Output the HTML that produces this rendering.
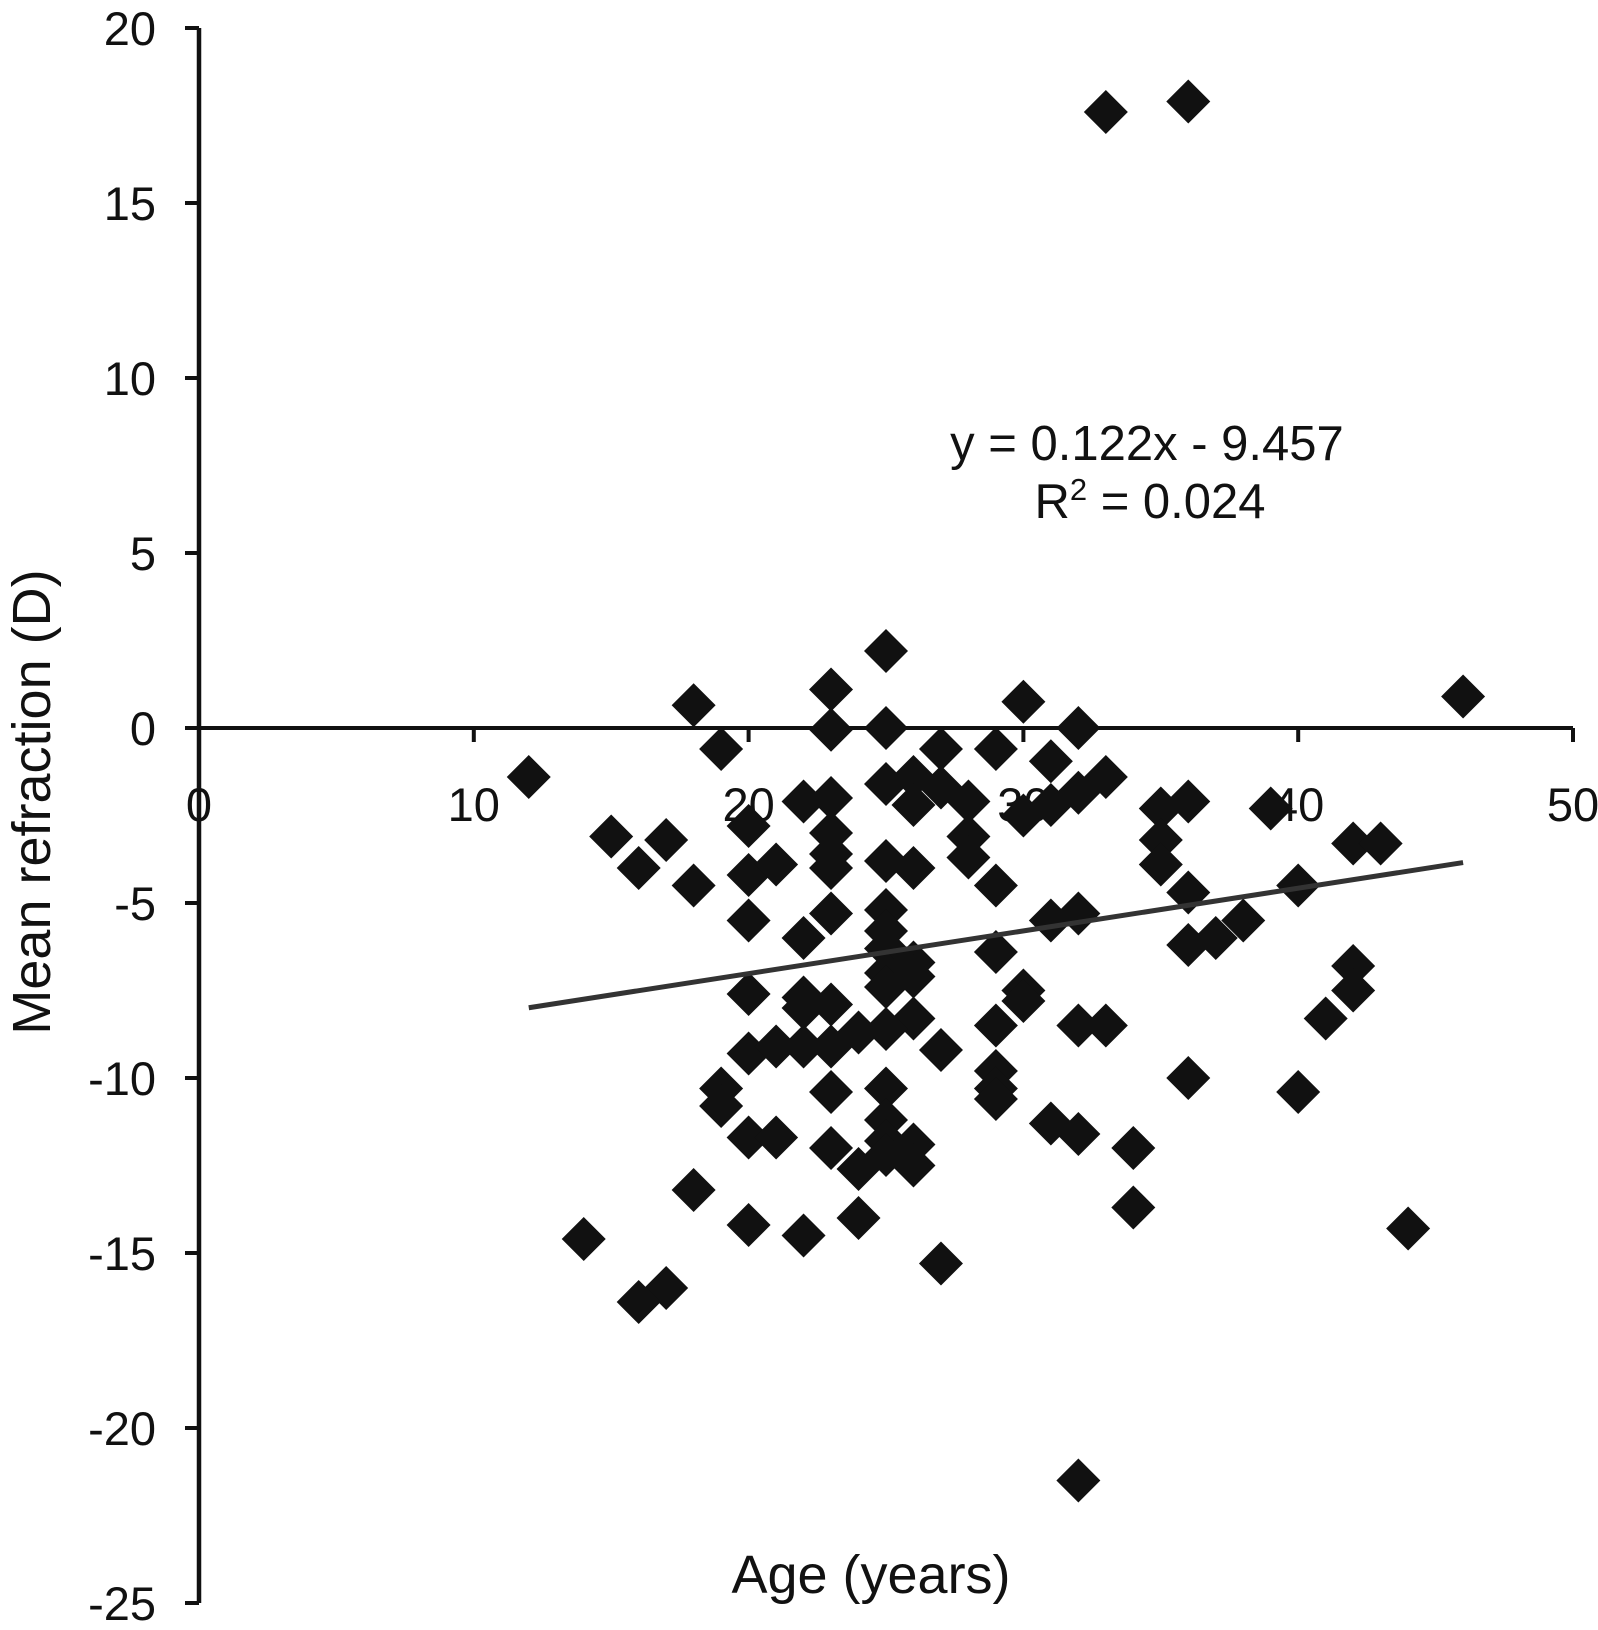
<!DOCTYPE html>
<html><head><meta charset="utf-8"><style>
html,body{margin:0;padding:0;background:#fff;}
svg{display:block;font-family:"Liberation Sans",Arial,sans-serif;}
</style></head><body>
<svg id="chart" width="1598" height="1630" viewBox="0 0 1598 1630" xmlns="http://www.w3.org/2000/svg"></svg>
<script>
const ages = [33,36,25,46,18,23,30,23,25,32,12,19,27,29,31,33,25,26,26,27,28,22,23,30,31,32,35,36,39,15,17,20,23,23,23,28,28,35,35,42,43,16,20,21,25,26,18,29,40,36,23,25,25,20,31,32,38,22,37,36,25,25,25,29,26,26,42,42,20,30,30,22,22,23,32,33,41,29,26,25,24,27,20,21,22,23,29,29,29,19,19,23,25,36,40,25,25,25,31,32,20,21,26,26,34,23,24,18,34,24,20,44,14,22,27,17,16,32];
const refraction = [17.6,17.9,2.2,0.9,0.65,1.1,0.75,-0.05,0,0,-1.4,-0.6,-0.6,-0.6,-0.95,-1.4,-1.6,-1.4,-2.2,-1.7,-2.1,-2.1,-2.0,-2.5,-2.2,-1.85,-2.3,-2.1,-2.3,-3.1,-3.2,-2.8,-3.0,-3.6,-4.0,-3.1,-3.7,-3.2,-3.9,-3.3,-3.3,-4.0,-4.2,-3.9,-3.8,-4.0,-4.5,-4.5,-4.5,-4.7,-5.3,-5.2,-5.8,-5.5,-5.5,-5.3,-5.5,-6.0,-6.0,-6.2,-6.3,-7.0,-7.4,-6.4,-6.7,-7.1,-6.8,-7.5,-7.6,-7.5,-7.8,-7.7,-8.0,-7.9,-8.5,-8.5,-8.3,-8.5,-8.3,-8.6,-8.7,-9.2,-9.3,-9.1,-9.1,-9.1,-9.8,-10.3,-10.6,-10.3,-10.8,-10.4,-10.3,-10.0,-10.4,-11.2,-11.8,-12.2,-11.3,-11.6,-11.7,-11.7,-11.9,-12.5,-12.0,-12.0,-12.6,-13.2,-13.7,-14.0,-14.2,-14.3,-14.6,-14.5,-15.3,-16.0,-16.4,-21.5];
const xTicks = [0,10,20,30,40,50];
const yTicks = [20,15,10,5,0,-5,-10,-15,-20,-25];
const trendSlope = 0.122, trendIntercept = -9.457, trendRange = [12,46];

const NS='http://www.w3.org/2000/svg';
const svg=document.getElementById('chart');
const X0=199,X1=1573,Y0=28,Y1=1603;
const xs=v=>X0+(v-0)/(50-0)*(X1-X0);
const ys=v=>Y0+(20-v)/(20-(-25))*(Y1-Y0);
function mk(tag,attrs,parent){const e=document.createElementNS(NS,tag);for(const k in attrs)e.setAttribute(k,attrs[k]);(parent||svg).appendChild(e);return e;}

const yAxis=mk('line',{x1:X0,y1:Y0,x2:X0,y2:Y1,stroke:'#111','stroke-width':4.5});


yTicks.forEach(t=>{
  const l=mk('line',{x1:X0-14,y1:ys(t),x2:X0,y2:ys(t),stroke:'#111','stroke-width':4});
  
  
  const tx=mk('text',{x:156,y:ys(t)+17,'text-anchor':'end','font-size':47,fill:'#111'});
  tx.textContent=t;
  
  
});
const xAxis=mk('line',{x1:X0,y1:ys(0),x2:X1,y2:ys(0),stroke:'#111','stroke-width':4});


xTicks.forEach(t=>{
  const l=mk('line',{x1:xs(t),y1:ys(0),x2:xs(t),y2:ys(0)+14,stroke:'#111','stroke-width':4});
  
  
  const tx=mk('text',{x:xs(t),y:ys(0)+93,'text-anchor':'middle','font-size':47,fill:'#111'});
  tx.textContent=t;
  
  
});
ages.forEach((a,i)=>{
  const cx=xs(a),cy=ys(refraction[i]),r=22;
  const p=mk('polygon',{points:`${cx},${cy-r} ${cx+r},${cy} ${cx},${cy+r} ${cx-r},${cy}`,fill:'#111'});
  
  
});
const tl=mk('line',{x1:xs(trendRange[0]),y1:ys(trendSlope*trendRange[0]+trendIntercept),x2:xs(trendRange[1]),y2:ys(trendSlope*trendRange[1]+trendIntercept),stroke:'#333','stroke-width':5});


</script>
<script>
(function(){
const NS='http://www.w3.org/2000/svg';const svg=document.getElementById('chart');
function t(attrs,txt,name){const e=document.createElementNS(NS,'text');for(const k in attrs)e.setAttribute(k,attrs[k]);e.textContent=txt;svg.appendChild(e);


return e;}
t({x:1147,y:460,'text-anchor':'middle','font-size':49,fill:'#111'},'y = 0.122x - 9.457','trend-equation');
const r=t({x:1150,y:518,'text-anchor':'middle','font-size':49,fill:'#111'},'','r-squared');
r.innerHTML='R<tspan font-size="31" dy="-18">2</tspan><tspan dy="18"> = 0.024</tspan>';
t({x:871,y:1593,'text-anchor':'middle','font-size':54,fill:'#111'},'Age (years)','x-axis-title');
t({x:0,y:0,'text-anchor':'middle','font-size':54,fill:'#111',transform:'translate(50,802) rotate(-90)'},'Mean refraction (D)','y-axis-title');
})();
</script>
</body></html>
